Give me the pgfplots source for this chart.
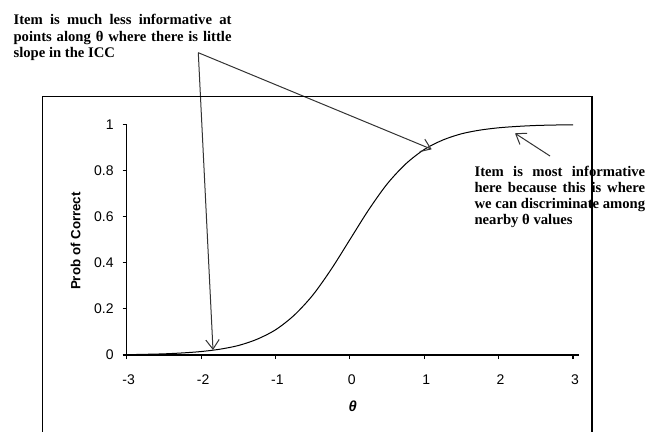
\documentclass[border=0pt]{standalone}
\usepackage{fontspec}
\setmainfont{Liberation Serif}
\setsansfont{Liberation Sans}
\usepackage{pgfplots}
\pgfplotsset{compat=1.18}
\usetikzlibrary{arrows.meta}
\begin{document}
\begin{tikzpicture}
\path[use as bounding box] (0,0) rectangle (485.25pt,-324pt);
\begin{axis}[
  at={(95.025pt,-266.25pt)}, anchor=south west,
  scale only axis, width=339.2pt, height=173pt,
  xmin=-3, xmax=3.08, ymin=0, ymax=1,
  axis x line=bottom, axis y line=left,
  axis line style={-, line width=0.8pt},
  xtick={-3,-2,-1,0,1,2,3}, ytick={0,0.2,0.4,0.6,0.8,1},
  tick align=outside, major tick length=3pt,
  tick style={black, line width=0.8pt},
  ticklabel style={font=\sffamily\fontsize{10.5}{12}\selectfont},
  xticklabel style={yshift=-8pt, xshift=1.5pt},
  yticklabel style={xshift=-3.3pt},
  /pgf/number format/assume math mode=true,
  xlabel={\textbf{\textit{θ}}},
  xlabel style={font=\sffamily\fontsize{11}{13}\selectfont,
    at={(axis description cs:0.5,-0.224)}, anchor=center},
  ylabel={Prob of Correct},
  ylabel style={font=\sffamily\bfseries\fontsize{10}{12}\selectfont,
    at={(axis description cs:-0.113,0.494)}, anchor=center},
  clip=false,
]
% item characteristic curve
\addplot[black, line width=0.75pt, smooth] coordinates {
  (-2.9,0.002) (-2.75,0.003) (-2.5,0.005) (-2.25,0.009) (-2,0.015)
  (-1.75,0.025) (-1.5,0.041) (-1.25,0.068) (-1,0.109) (-0.75,0.172)
  (-0.5,0.259) (-0.25,0.372) (0,0.5) (0.25,0.628) (0.5,0.741)
  (0.75,0.828) (1,0.891) (1.25,0.932) (1.5,0.959) (1.75,0.975)
  (2,0.985) (2.25,0.991) (2.5,0.995) (2.75,0.997) (3,0.998)};
\end{axis}
% annotations, in pixel units of the 647x432 picture
\begin{scope}[x=0.75pt, y=-0.75pt]
\node[anchor=north west, inner sep=0pt, align=left,
      font=\bfseries\fontsize{11}{12.5}\selectfont] at (13.3,14)
  {\makebox[163.5pt][s]{Item is much less informative at}\\
   \makebox[163.5pt][s]{points along θ where there is little}\\
   slope in the ICC};
\node[anchor=north west, inner sep=0pt, align=left,
      font=\bfseries\fontsize{11}{12}\selectfont] at (474.3,165.7)
  {\makebox[128pt][s]{Item is most informative}\\
   \makebox[128pt][s]{here because this is where}\\
   \makebox[128pt][s]{we can discriminate among}\\
   nearby θ values};
\begin{scope}[black!80, line width=0.75pt,
              -{Straight Barb[length=7pt, width=10pt]}]
\draw (198.3,52.7) -- (213,350);
\draw (198.3,52.7) -- (431.7,149.3);
\draw (550,156) -- (515,133.3);
\end{scope}
\draw[line width=0.8pt] (42.7,432) -- (42.7,96.5) -- (592,96.5) -- (592,432);
\end{scope}
\end{tikzpicture}
\end{document}
